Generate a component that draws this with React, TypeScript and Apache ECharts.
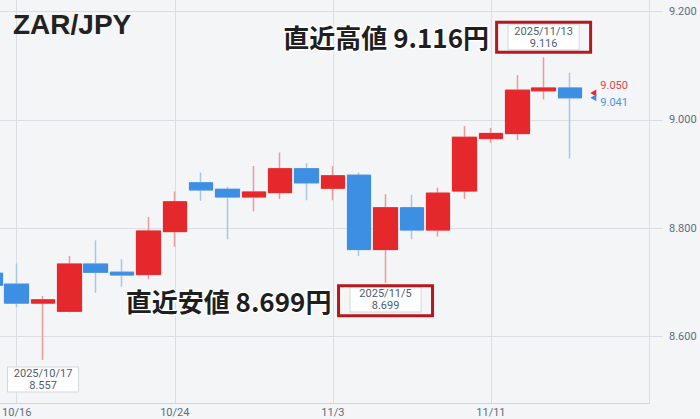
import { useEffect, useRef } from "react";
import * as echarts from "echarts";

// trading days, 10/15 is cut at the left edge, 11/17-11/19 are still empty
const dates = [
  "10/15", "10/16", "10/17", "10/20", "10/21", "10/22", "10/23", "10/24",
  "10/27", "10/28", "10/29", "10/30", "10/31", "11/3", "11/4", "11/5",
  "11/6", "11/7", "11/10", "11/11", "11/12", "11/13", "11/14",
  "11/17", "11/18", "11/19",
];
const opens = [
  8.717, 8.697, 8.662, 8.647, 8.734, 8.719, 8.715, 8.794, 8.884, 8.872, 8.858, 8.866,
  8.91, 8.874, 8.898, 8.761, 8.838, 8.797, 8.869, 8.966, 8.975, 9.054, 9.059,
];
const closes = [
  8.695, 8.662, 8.668, 8.734, 8.719, 8.714, 8.795, 8.849, 8.871, 8.858, 8.867, 8.91,
  8.884, 8.897, 8.761, 8.838, 8.797, 8.865, 8.968, 8.975, 9.055, 9.059, 9.041,
];
const lows = [
  8.69, 8.655, 8.557, 8.645, 8.681, 8.692, 8.706, 8.766, 8.851, 8.78, 8.831, 8.854,
  8.852, 8.852, 8.749, 8.699, 8.78, 8.785, 8.854, 8.958, 8.963, 9.038, 8.929,
];
const highs = [
  8.722, 8.735, 8.675, 8.749, 8.778, 8.743, 8.821, 8.868, 8.903, 8.877, 8.915, 8.94,
  8.92, 8.915, 8.903, 8.863, 8.862, 8.875, 8.989, 8.985, 9.083, 9.116, 9.087,
];
const yTicks = [8.6, 8.8, 9.0, 9.2];

// marked highs / lows
const noteDates = ["2025/11/13", "2025/11/5", "2025/10/17"];
const noteValues = [9.116, 8.699, 8.557];
const noteTitles = ["直近高値", "直近安値"];

// ask / bid at the right end
const quotes = [9.05, 9.041];
const quoteDate = "11/17";

const UP = "#e5282c";
const DOWN = "#3d8fe3";
const UP_WICK = "#eb9a9d";
const DOWN_WICK = "#a9c6e6";
const GRID = "#dcdee3";
const AXIS_TEXT = "#5c6d80";
const FRAME = "#b3191e";

const boxOffsets = [-20, 16.5, 19.5];
const frameOffsets = [-20, 17.7];
const bigOffsets: [number, number][] = [
  [-157.5, -21],
  [-157, 17.5],
];

const labelEvery = (i: number) => i % 6 === 1;

export default function App() {
  const ref = useRef<HTMLDivElement>(null);

  useEffect(() => {
    if (!ref.current) return;
    const chart = echarts.init(ref.current, undefined, { renderer: "svg" });

    const noteBoxes = noteDates.map((d, i) => ({
      coord: [d.slice(5), noteValues[i]],
      symbol: "rect",
      symbolSize: [1, 1],
      itemStyle: { color: "rgba(0,0,0,0)" },
      label: {
        show: true,
        position: "inside",
        offset: [0, boxOffsets[i]],
        formatter: `${d}\n${noteValues[i].toFixed(3)}`,
        width: 70,
        align: "center",
        lineHeight: 12,
        fontSize: 11,
        fontFamily: "Roboto",
        color: "#4d5d72",
        backgroundColor: "#ffffff",
        borderColor: "#d3d8de",
        borderWidth: 1,
        padding: [0, 0],
      },
    }));

    const bigTexts = noteTitles.map((t, i) => ({
      coord: [noteDates[i].slice(5), noteValues[i]],
      symbol: "rect",
      symbolSize: [1, 1],
      itemStyle: { color: "rgba(0,0,0,0)" },
      label: {
        show: true,
        position: "inside",
        offset: bigOffsets[i],
        formatter: `${t} ${noteValues[i].toFixed(3)}円`,
        fontSize: 26,
        fontWeight: "bold",
        fontFamily: "Noto Sans CJK JP",
        color: "#1f1f1f",
        textBorderColor: "#ffffff",
        textBorderWidth: 3,
      },
    }));

    const quoteMarks = quotes.map((q, i) => ({
      coord: [quoteDate, q],
      symbol: "triangle",
      symbolSize: [7, 6],
      symbolRotate: 90,
      symbolOffset: [-3, 0],
      itemStyle: { color: i === 0 ? UP : DOWN },
      label: {
        show: true,
        position: "right",
        distance: 4,
        offset: [0, i === 0 ? -7 : 5],
        formatter: q.toFixed(3),
        fontSize: 11,
        fontFamily: "Roboto",
        color: i === 0 ? "#e0474c" : "#4a95e0",
      },
    }));

    chart.setOption({
      animation: false,
      backgroundColor: "#f4f5f7",
      title: {
        text: "ZAR/JPY",
        left: 13,
        top: 10,
        padding: 0,
        textStyle: {
          fontSize: 28,
          fontWeight: "bold",
          fontFamily: "Liberation Sans",
          color: "#222222",
        },
      },
      grid: {
        left: -9.65,
        right: 51,
        top: 0,
        bottom: 16,
        containLabel: false,
        outerBoundsMode: "none",
      },
      xAxis: {
        type: "category",
        data: dates,
        boundaryGap: false,
        axisLine: { lineStyle: { color: "#d0d3d8" } },
        axisTick: { show: false },
        axisLabel: {
          interval: (i: number) => labelEvery(i) && i < dates.length - 1,
          margin: 4,
          fontSize: 11,
          fontFamily: "Roboto",
          color: AXIS_TEXT,
        },
        splitLine: {
          show: true,
          interval: labelEvery,
          lineStyle: { color: GRID },
        },
      },
      yAxis: {
        type: "value",
        position: "right",
        min: 8.4776,
        max: 9.2215,
        axisLine: { show: false },
        axisTick: {
          show: true,
          length: 14,
          customValues: yTicks,
          lineStyle: { color: GRID },
        },
        axisLabel: {
          customValues: yTicks,
          margin: 20,
          fontSize: 11,
          fontFamily: "Roboto",
          color: AXIS_TEXT,
          formatter: (v: number) => v.toFixed(3),
        },
        splitLine: { lineStyle: { color: GRID } },
      },
      series: [
        {
          // full candles: the light border draws the wicks
          type: "candlestick",
          barWidth: 24,
          data: opens.map((o, i) => [o, closes[i], lows[i], highs[i]]),
          itemStyle: {
            color: UP,
            color0: DOWN,
            borderColor: UP_WICK,
            borderColor0: DOWN_WICK,
            borderWidth: 1.5,
          },
          markPoint: {
            silent: true,
            z: 5,
            data: [...noteBoxes, ...bigTexts, ...quoteMarks],
          },
        },
        {
          // solid bodies on top of the same candles
          type: "candlestick",
          barWidth: 24,
          z: 3,
          silent: true,
          data: opens.map((o, i) => [
            o,
            closes[i],
            Math.min(o, closes[i]),
            Math.max(o, closes[i]),
          ]),
          itemStyle: {
            color: UP,
            color0: DOWN,
            borderColor: UP,
            borderColor0: DOWN,
            borderWidth: 1,
          },
        },
      ],
    });

    // red frames round the high / low boxes, placed through the axes
    const frames = noteTitles.map((_, i) => {
      const [px, py] = chart.convertToPixel({ seriesIndex: 0 }, [
        noteDates[i].slice(5),
        noteValues[i],
      ]) as number[];
      const cy = py + frameOffsets[i];
      return {
        type: "rect",
        silent: true,
        z: 100,
        shape: { x: px - 47, y: cy - 15, width: 94, height: 30 },
        style: { fill: "none", stroke: FRAME, lineWidth: 3 },
      };
    });
    chart.setOption({ graphic: frames });

    return () => chart.dispose();
  }, []);

  return (
    <div
      ref={ref}
      style={{ position: "fixed", left: 0, top: 0, width: 700, height: 419 }}
    />
  );
}
